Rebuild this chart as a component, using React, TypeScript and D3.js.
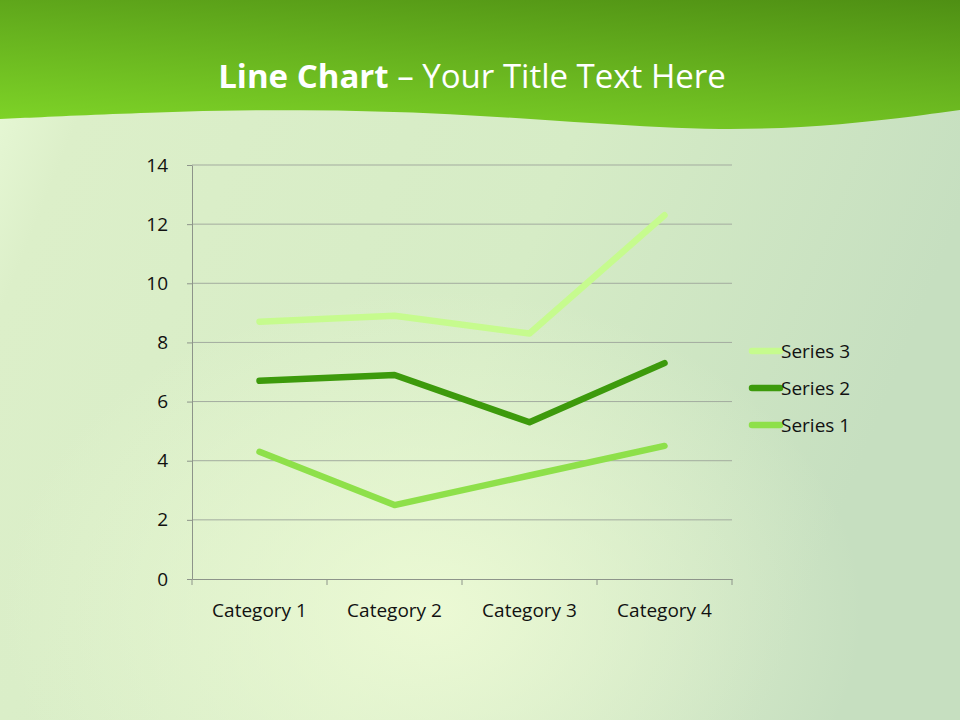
import React, { useEffect, useRef } from 'react'
import * as d3 from 'd3'

const categories = ['Category 1', 'Category 2', 'Category 3', 'Category 4']
const series1 = [4.3, 2.5, 3.5, 4.5]
const series2 = [2.4, 4.4, 1.8, 2.8]
const series3 = [2, 2, 3, 5]
const seriesNames = ['Series 1', 'Series 2', 'Series 3']
const seriesColors = ['#8ee04a', '#3d9a0c', '#c6fb8e']
const yTicks = [0, 2, 4, 6, 8, 10, 12, 14]

const W = 960
const H = 720
const plot = { left: 192, right: 732, top: 165, bottom: 579 }
const font = "'Open Sans', Calibri, sans-serif"

const App: React.FC = () => {
    const ref = useRef<SVGSVGElement>(null)
    useEffect(() => {
        const svg = d3.select(ref.current)
        svg.selectAll('*').remove()

        const defs = svg.append('defs')
        const bg = defs.append('linearGradient').attr('id', 'bg').attr('x1', 0).attr('y1', 0).attr('x2', 1).attr('y2', 0.3)
        bg.append('stop').attr('offset', 0).attr('stop-color', '#eafbd9')
        bg.append('stop').attr('offset', 0.12).attr('stop-color', '#dcefc9')
        bg.append('stop').attr('offset', 0.6).attr('stop-color', '#d6ecc6')
        bg.append('stop').attr('offset', 1).attr('stop-color', '#c6dfc0')
        const glow = defs.append('radialGradient').attr('id', 'glow').attr('cx', 0.45).attr('cy', 0.85).attr('r', 0.45)
        glow.append('stop').attr('offset', 0).attr('stop-color', '#eefbd6').attr('stop-opacity', 0.9)
        glow.append('stop').attr('offset', 1).attr('stop-color', '#eefbd6').attr('stop-opacity', 0)
        const head = defs.append('linearGradient').attr('id', 'head').attr('x1', 0).attr('y1', 1).attr('x2', 0.6).attr('y2', -0.3)
        head.append('stop').attr('offset', 0).attr('stop-color', '#80d628')
        head.append('stop').attr('offset', 0.5).attr('stop-color', '#66b11e')
        head.append('stop').attr('offset', 1).attr('stop-color', '#4b8a12')

        svg.append('rect').attr('width', W).attr('height', H).attr('fill', 'url(#bg)')
        svg.append('rect').attr('width', W).attr('height', H).attr('fill', 'url(#glow)')

        // wavy header
        const wave: [number, number][] = [[0, 119], [150, 112], [300, 109], [450, 113], [600, 124], [720, 131], [840, 126], [960, 110]]
        const waveLine = d3.line().curve(d3.curveBasis)
        svg.append('path')
            .attr('d', `M0,0 L${W},0 ` + waveLine(wave.slice().reverse())!.replace('M', 'L') + ' Z')
            .attr('fill', 'url(#head)')

        svg.append('text')
            .attr('x', 472).attr('y', 88)
            .attr('text-anchor', 'middle')
            .attr('fill', '#ffffff')
            .attr('font-family', font)
            .attr('font-size', 33)
            .call((t) => {
                t.append('tspan').attr('font-weight', 'bold').text('Line Chart')
                t.append('tspan').text(' – Your Title Text Here')
            })

        const x = d3.scaleBand().domain(categories).range([plot.left, plot.right])
        const y = d3.scaleLinear().domain([0, 14]).range([plot.bottom, plot.top])

        // gridlines
        svg.append('g').selectAll('line')
            .data(yTicks.filter((d) => d > 0))
            .join('line')
            .attr('x1', plot.left).attr('x2', plot.right)
            .attr('y1', (d) => y(d)).attr('y2', (d) => y(d))
            .attr('stroke', '#a3ab9f').attr('stroke-width', 1)

        const yAxis = svg.append('g')
            .attr('transform', `translate(${plot.left},0)`)
            .call(d3.axisLeft(y).tickValues(yTicks).tickSize(5).tickPadding(19).tickSizeOuter(0))
        yAxis.select('.domain').attr('stroke', '#8d948a')
        yAxis.selectAll('line').attr('stroke', '#8d948a')
        yAxis.selectAll('text').attr('font-size', 19).attr('font-family', font).attr('fill', '#111')

        const xAxis = svg.append('g')
            .attr('transform', `translate(0,${plot.bottom})`)
            .call(d3.axisBottom(x).tickSize(0).tickPadding(25))
        xAxis.select('.domain').attr('stroke', '#8d948a')
        xAxis.selectAll('text').attr('font-size', 19).attr('font-family', font).attr('fill', '#111')
        svg.append('g').selectAll('line')
            .data([...categories.map((c) => x(c)!), plot.right])
            .join('line')
            .attr('x1', (d) => d).attr('x2', (d) => d)
            .attr('y1', plot.bottom).attr('y2', plot.bottom + 6)
            .attr('stroke', '#8d948a')

        // stacked series
        const raw = [series1, series2, series3]
        const stacked = raw.map((s, i) => s.map((_, j) => d3.sum(raw.slice(0, i + 1), (r) => r[j])))
        const line = d3.line<number>()
            .x((_, j) => x(categories[j])! + x.bandwidth() / 2)
            .y((d) => y(d))
        svg.append('g').selectAll('path')
            .data(stacked)
            .join('path')
            .attr('d', (d) => line(d))
            .attr('fill', 'none')
            .attr('stroke', (_, i) => seriesColors[i])
            .attr('stroke-width', 6.5)
            .attr('stroke-linejoin', 'round')
            .attr('stroke-linecap', 'round')

        // legend
        const order = [2, 1, 0]
        const legend = svg.append('g').selectAll('g')
            .data(order)
            .join('g')
            .attr('transform', (_, k) => `translate(752,${351 + k * 37})`)
        legend.append('line')
            .attr('x1', 0).attr('x2', 28)
            .attr('stroke', (i) => seriesColors[i])
            .attr('stroke-width', 6.5)
            .attr('stroke-linecap', 'round')
        legend.append('text')
            .attr('x', 29).attr('dy', '0.35em')
            .attr('font-size', 19).attr('font-family', font).attr('fill', '#111')
            .text((i) => seriesNames[i])
    }, [])
    return (
        <svg ref={ref} width={W} height={H} viewBox={`0 0 ${W} ${H}`}
            style={{ position: 'absolute', left: 0, top: 0, display: 'block' }} />
    )
}

export default App
